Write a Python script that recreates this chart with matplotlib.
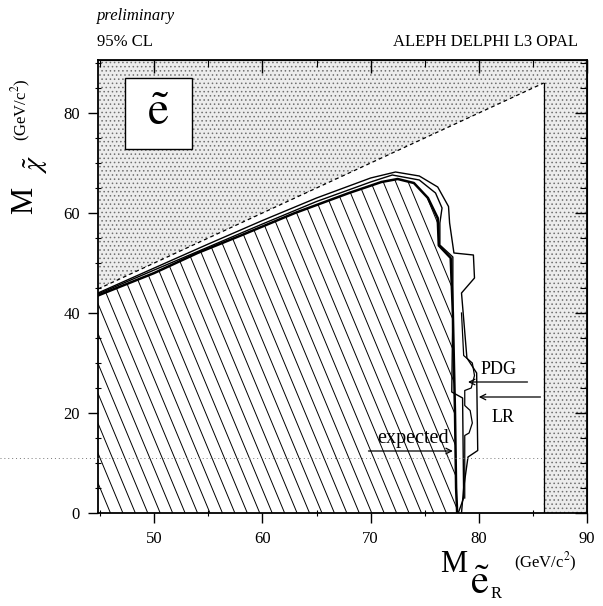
import numpy as np
import matplotlib
matplotlib.use("Agg")
import matplotlib.pyplot as plt
from matplotlib.patches import Polygon, Rectangle
from matplotlib.lines import Line2D
from matplotlib.ticker import MultipleLocator

plt.rcParams['font.family'] = ['Liberation Serif', 'DejaVu Serif']
plt.rcParams['mathtext.fontset'] = 'stix'
plt.rcParams['hatch.color'] = '#707070'
plt.rcParams['hatch.linewidth'] = 0.6

# axis ranges (GeV/c^2)
XMIN, XMAX = 44.8, 90.0
YMIN, YMAX = 0.0, 90.6

# kinematic limit M_chi = M_selectron, and end of the scanned range
kin_x = [44.8, 86.0]
edge_x = 86.0

# observed combined limit (boundary of hatched area)
obs_x = [44.8, 50, 54, 58, 63, 68, 71, 72.5, 74, 75.3, 76.2, 76.3, 77.4, 77.6, 77.8, 77.9, 78.0]
obs_y = [43.5, 48, 52, 55.5, 60, 64, 66.2, 66.8, 66.0, 63.0, 59.0, 53.5, 51.0, 40.0, 20.0, 5.0, 0.0]

# the other limit curves
mid_x = [44.8, 50, 55, 60, 65, 70, 72.0, 74.5, 76.0, 76.6, 76.4, 76.4, 77.6, 77.6, 77.5, 78.5, 78.6, 78.1]
mid_y = [43.8, 48.6, 53.2, 57.8, 62.3, 66.2, 67.6, 66.6, 64.0, 61.0, 58.0, 53.6, 51.2, 41.6, 24.2, 23.0, 3.0, 0.0]

out_x = [44.8, 50, 55, 60, 65, 70, 72.3, 74.5, 76.2, 77.2, 77.3, 77.7, 79.5, 79.6, 78.4, 78.9, 79.8, 79.9, 79.0, 78.6, 78.4]
out_y = [44.0, 49.0, 53.8, 58.5, 63.0, 67.0, 68.2, 67.4, 65.2, 61.3, 58.0, 52.0, 51.6, 47.0, 44.0, 31.0, 28.0, 12.5, 11.2, 5.0, 0.0]

exp_x = [78.4, 78.6, 79.4, 79.6, 79.3, 78.7, 78.7, 79.2, 79.4, 79.1, 78.7, 78.7]
exp_y = [40.0, 31.5, 30.0, 27.5, 25.0, 24.5, 21.5, 20.5, 18.0, 16.0, 15.5, 3.0]

W, H = 603, 606


def fx(px):
    return px / W


def fy(py):
    return 1 - py / H


fig = plt.figure(figsize=(W / 100, H / 100), dpi=100)
ax = fig.add_axes([fx(98), fy(513), (587 - 98) / W, (513 - 60) / H])
ax.set_xlim(XMIN, XMAX)
ax.set_ylim(YMIN, YMAX)

# stippled (forbidden) area
stip = Polygon([(XMIN, kin_x[0]), (kin_x[1], kin_x[1]), (edge_x, YMIN),
                (XMAX, YMIN), (XMAX, YMAX), (XMIN, YMAX)],
               closed=True, facecolor='#ececec', edgecolor='#707070',
               hatch='....', lw=0, zorder=0)
ax.add_patch(stip)
ax.plot(kin_x, kin_x, color='black', lw=0.9, ls=(0, (3, 2.5)), zorder=2)
ax.plot([edge_x, edge_x], [YMIN, kin_x[1]], color='black', lw=0.9, zorder=2)

# excluded area with steep hatching
excl = Polygon(np.column_stack([[XMIN] + obs_x, [YMIN] + obs_y]), closed=True,
               facecolor='white', edgecolor='none', zorder=1)
ax.add_patch(excl)
slope = 5.2
for x0 in np.arange(XMIN, 96, 1.15):
    ln, = ax.plot([x0 - YMAX / slope, x0], [YMAX, 0], color='black', lw=0.7, zorder=1.5)
    ln.set_clip_path(excl)

ax.plot(out_x, out_y, color='black', lw=1.0, zorder=3)
ax.plot(mid_x, mid_y, color='black', lw=1.0, zorder=3)
ax.plot(exp_x, exp_y, color='black', lw=0.9, zorder=3)
ax.plot(obs_x, obs_y, color='black', lw=1.8, zorder=4)

# labels with arrows
arrow = dict(arrowstyle='->', color='black', lw=0.9, shrinkA=0, shrinkB=0)
ax.annotate('', xy=(79.0, 26.2), xytext=(84.5, 26.2), arrowprops=arrow, zorder=5)
ax.text(80.2, 27.0, 'PDG', fontsize=13, ha='left', va='bottom', zorder=5)
ax.annotate('', xy=(80.0, 23.2), xytext=(85.7, 23.2), arrowprops=arrow, zorder=5)
ax.text(82.2, 19.2, 'LR', fontsize=13, ha='center', va='center', zorder=5)
ax.annotate('', xy=(77.6, 12.4), xytext=(69.8, 12.4), arrowprops=arrow, zorder=5)
ax.text(73.9, 13.0, 'expected', fontsize=14.5, ha='center', va='bottom', zorder=5)

# selectron box
ax.add_patch(Rectangle((47.3, 72.8), 6.2, 14.2, facecolor='white',
                       edgecolor='black', lw=1.0, zorder=5))
ax.text(50.4, 79.9, r'$\tilde{\mathrm{e}}$', fontsize=34, ha='center', va='center', zorder=6)

# ticks
ax.xaxis.set_major_locator(MultipleLocator(10))
ax.xaxis.set_minor_locator(MultipleLocator(5))
ax.yaxis.set_major_locator(MultipleLocator(20))
ax.yaxis.set_minor_locator(MultipleLocator(5))
ax.tick_params(which='major', direction='out', length=7, width=1.0, labelsize=12, pad=6)
ax.tick_params(which='minor', direction='inout', length=5, width=0.8)
for s in ax.spines.values():
    s.set_linewidth(1.3)
    s.set_zorder(6)

secx = ax.secondary_xaxis('top')
secx.xaxis.set_major_locator(MultipleLocator(10))
secx.xaxis.set_minor_locator(MultipleLocator(5))
secx.tick_params(which='major', direction='in', length=9, width=1.0, labeltop=False)
secx.tick_params(which='minor', direction='in', length=5, width=0.8, labeltop=False)
secy = ax.secondary_yaxis('right')
secy.yaxis.set_major_locator(MultipleLocator(20))
secy.yaxis.set_minor_locator(MultipleLocator(5))
secy.tick_params(which='major', direction='in', length=9, width=1.0, labelright=False)
secy.tick_params(which='minor', direction='in', length=5, width=0.8, labelright=False)

# axis titles
fig.text(fx(440), fy(572), 'M', fontsize=22, ha='left', va='baseline')
fig.text(fx(470), fy(594), r'$\tilde{\mathrm{e}}$', fontsize=29, ha='left', va='baseline')
fig.text(fx(491), fy(598), 'R', fontsize=12, ha='left', va='baseline')
fig.text(fx(514), fy(568), r'(GeV/c$^2$)', fontsize=12, ha='left', va='baseline')

fig.text(fx(39), fy(200), 'M', fontsize=22, rotation=90, ha='right', va='center')
fig.text(fx(50), fy(165), r'$\tilde{\chi}$', fontsize=20, rotation=90, ha='right', va='center')
fig.text(fx(33), fy(110), r'(GeV/c$^2$)', fontsize=12, rotation=90, ha='right', va='center')

# page texts
fig.text(fx(97), fy(20), 'preliminary', fontsize=12, style='italic', ha='left', va='baseline')
fig.text(fx(97), fy(46), '95% CL', fontsize=12, ha='left', va='baseline')
fig.text(fx(578), fy(46), 'ALEPH DELPHI L3 OPAL', fontsize=12, ha='right', va='baseline')

# faint dotted line across the page
fig.add_artist(Line2D([0, fx(545)], [fy(458), fy(458)], ls=(0, (1, 3)), color='#777777', lw=0.7))

fig.savefig('out.png', dpi=100)
